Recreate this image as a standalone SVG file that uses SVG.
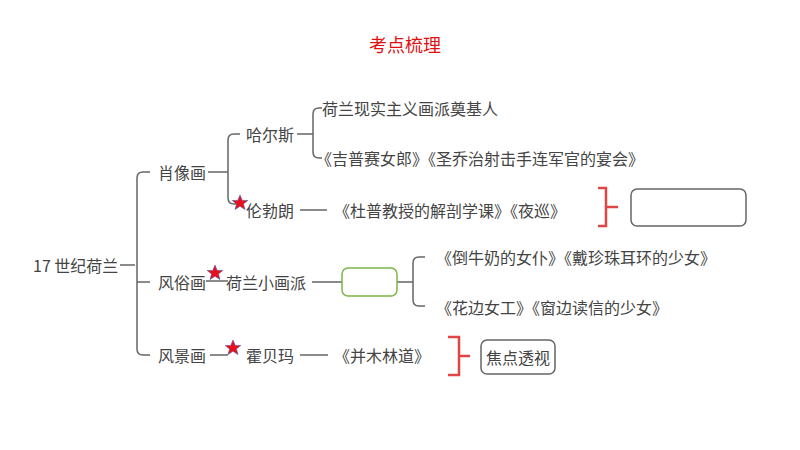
<svg xmlns="http://www.w3.org/2000/svg" width="800" height="450" viewBox="0 0 800 450">
<style>
text{font-family:"Noto Sans CJK SC","Liberation Sans",sans-serif;font-size:16px;fill:#444;dominant-baseline:central}
.c{fill:none;stroke:#666;stroke-width:1.5}
.r{fill:none;stroke:#e04545;stroke-width:2.5}
.s{fill:#e8101a;stroke:#5050a0;stroke-width:0.6}
</style>
<defs><polygon id="star" points="0,-8 2.2,-2.6 7.8,-2.5 3.4,1 5,6.5 0,3.3 -5,6.5 -3.4,1 -7.8,-2.5 -2.2,-2.6"/></defs>
<text x="405" y="44" text-anchor="middle" style="fill:#e01010;font-size:18px">考点梳理</text>
<g id="connectors">
<path class="c" d="M120 265H135M150 172H143Q137 172 137 178V349Q137 355 143 355H150M137 282H150"/>
<path class="c" d="M208 172H228M240 134H234Q228 134 228 140V198Q228 204 234 204H240"/>
<path class="c" d="M297 134H313M322 108H319Q313 108 313 114V152Q313 158 319 158H322"/>
<path class="c" d="M300 210H327M206 281H228M312 282H342M397 282H413M425 257H419Q413 257 413 263V300Q413 306 419 306H425M210 355H228M300 355H328"/>
<path class="r" d="M598 188H606V226H598M606 207H618"/>
<path class="r" d="M448 337H459V375H448M459 356H470"/>
</g>
<g id="root"><text x="33" y="265">17 世纪荷兰</text></g>
<g id="xiaoxianghua"><text x="158" y="172">肖像画</text></g>
<g id="haersi"><text x="246" y="134">哈尔斯</text></g>
<g id="h1"><text x="322" y="108">荷兰现实主义画派奠基人</text></g>
<g id="h2"><text x="316" y="158">《吉普赛女郎》《圣乔治射击手连军官的宴会》</text></g>
<g id="lunbolang"><use href="#star" class="s" x="240" y="203"/><text x="246" y="210">伦勃朗</text></g>
<g id="l1"><text x="334" y="210">《杜普教授的解剖学课》《夜巡》</text></g>
<g id="box1"><rect x="631" y="189" width="115" height="37" rx="6" fill="#fff" stroke="#666" stroke-width="1.5"/></g>
<g id="fengsuhua"><text x="158" y="282">风俗画</text></g>
<g id="xiaohuapai"><use href="#star" class="s" x="215" y="273"/><text x="226" y="282">荷兰小画派</text></g>
<g id="greenbox"><rect x="342" y="268" width="55" height="28" rx="6" fill="#fff" stroke="#7ab648" stroke-width="1.5"/></g>
<g id="f1"><text x="436" y="257">《倒牛奶的女仆》《戴珍珠耳环的少女》</text></g>
<g id="f2"><text x="436" y="307">《花边女工》《窗边读信的少女》</text></g>
<g id="fengjinghua"><text x="158" y="355">风景画</text></g>
<g id="huobeima"><use href="#star" class="s" x="233" y="348"/><text x="246" y="355">霍贝玛</text></g>
<g id="j1"><text x="334" y="355">《并木林道》</text></g>
<g id="jiaodian"><rect x="481" y="340" width="74" height="34" rx="6" fill="#fff" stroke="#666" stroke-width="1.5"/><text x="518" y="357" text-anchor="middle">焦点透视</text></g>
</svg>
